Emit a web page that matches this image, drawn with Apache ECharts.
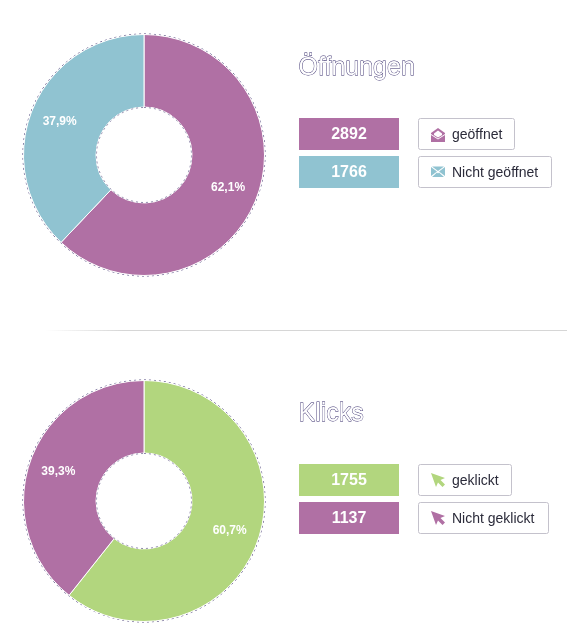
<!DOCTYPE html>
<html><head><meta charset="utf-8">
<style>html,body{margin:0;padding:0;background:#fff}#c{width:567px;height:634px}</style>
<script src="https://cdn.jsdelivr.net/npm/echarts@6/dist/echarts.min.js"></script>
</head><body><div id="c"></div>
<script>
const titles = ['Öffnungen', 'Klicks'];
const openLabels = ['geöffnet', 'Nicht geöffnet'];
const openValues = [2892, 1766];
const clickLabels = ['geklickt', 'Nicht geklickt'];
const clickValues = [1755, 1137];
const PURPLE = '#b070a4', TEAL = '#90c3d1', GREEN = '#b2d67e';
const openColors = [PURPLE, TEAL];
const clickColors = [GREEN, PURPLE];

const FONT = '"Liberation Sans", Arial, sans-serif';
const chart = echarts.init(document.getElementById('c'), null, {renderer: 'canvas'});

function pie(cy, labels, values, colors) {
  const total = values.reduce((a, b) => a + b, 0);
  return [{
    type: 'pie', center: [144, cy], radius: [0, 121], silent: true, z: 1,
    startAngle: 90, animation: false, label: {show: false}, labelLine: {show: false},
    data: [{value: 1, itemStyle: {color: '#fff', borderColor: '#4a3f78', borderWidth: 1, borderType: [2, 3]}}]
  }, {
    type: 'pie', center: [144, cy], radius: [48, 120.5], startAngle: 90, clockwise: true, z: 2,
    animation: false, silent: true,
    itemStyle: {borderColor: '#fff', borderWidth: 1},
    label: {
      show: true, position: 'inside', color: '#fff', fontFamily: FONT, fontSize: 12, fontWeight: 'bold',
      formatter: p => (p.value / total * 100).toFixed(1).replace('.', ',') + '%'
    },
    labelLine: {show: false},
    labelLayout: p => {
      const x = p.rect.x + p.rect.width / 2 - 144, y = p.rect.y + p.rect.height / 2 - cy;
      return {dx: x * 0.08 + 1.5, dy: y * 0.08 + 0.5};
    },
    data: values.map((v, i) => ({name: labels[i], value: v, itemStyle: {color: colors[i]}}))
  }, {
    type: 'pie', center: [144, cy], radius: [0, 47.5], silent: true, z: 3, startAngle: 90,
    animation: false, label: {show: false}, labelLine: {show: false},
    data: [{value: 1, itemStyle: {color: '#fff', borderColor: '#8f88aa', borderWidth: 1, borderType: [2, 3]}}]
  }];
}

const mailOpen = [
  {p: [[0,5],[7,0],[14,5],[14,14],[0,14]], c: 1},
  {p: [[3,5.5],[7,2.5],[11,5.5],[11,7],[7,9.5],[3,7]], c: 0},
  {p: [[0,6],[7,10.5],[14,6],[14,7],[7,11.5],[0,7]], c: 0}
];
const mailClosed = [
  {p: [[0,1],[6,5.5],[0,10]], c: 1},
  {p: [[14,1],[8,5.5],[14,10]], c: 1},
  {p: [[1,0.5],[13,0.5],[7,5]], c: 1},
  {p: [[1,11],[6,6.5],[7,7.5],[8,6.5],[13,11]], c: 1}
];
const cursor = [{p: [[0,-1],[14,4],[9.5,6],[14,10.5],[11.5,13],[7,8.5],[5,13]], c: 1}];

function group(titleY, titleText, boxY, labels, values, colors, widths, icons) {
  const els = [{
    type: 'text', x: 298.5, y: titleY,
    style: {text: titleText, fill: '#fff', stroke: '#2f2466', lineWidth: 0.8,
      font: '25px ' + FONT, verticalAlign: 'top'}
  }];
  values.forEach((v, i) => {
    const y = boxY + i * 38;
    els.push({type: 'rect', shape: {x: 299, y: y, width: 100, height: 32}, style: {fill: colors[i]}});
    els.push({type: 'text', x: 349, y: y + 17, style: {text: String(v), fill: '#fff',
      font: 'bold 16px ' + FONT, align: 'center', verticalAlign: 'middle'}});
    els.push({type: 'rect', shape: {x: 418.5, y: y + 0.5, width: widths[i], height: 31, r: 2},
      style: {fill: '#fff', stroke: '#c4c2cc', lineWidth: 1}});
    icons[i].forEach(part => {
      els.push({type: 'polygon', x: 431, y: y + 10, shape: {points: part.p},
        style: {fill: part.c ? colors[i] : '#fff'}});
    });
    els.push({type: 'text', x: 452, y: y + 17, style: {text: labels[i], fill: '#2b2b3a',
      font: '14px ' + FONT, align: 'left', verticalAlign: 'middle'}});
  });
  return els;
}

chart.setOption({
  animation: false,
  series: [...pie(155, openLabels, openValues, openColors), ...pie(501, clickLabels, clickValues, clickColors)],
  graphic: {elements: [
    {type: 'rect', shape: {x: 45, y: 330, width: 522, height: 1},
      style: {fill: new echarts.graphic.LinearGradient(0, 0, 1, 0, [
        {offset: 0, color: 'rgba(214,214,214,0)'}, {offset: 0.15, color: '#d6d6d6'}, {offset: 1, color: '#d6d6d6'}])}},
    ...group(56, titles[0], 118, openLabels, openValues, openColors, [96, 133], [mailOpen, mailClosed]),
    ...group(402, titles[1], 464, clickLabels, clickValues, clickColors, [93, 130], [cursor, cursor])
  ]}
});
</script></body></html>
